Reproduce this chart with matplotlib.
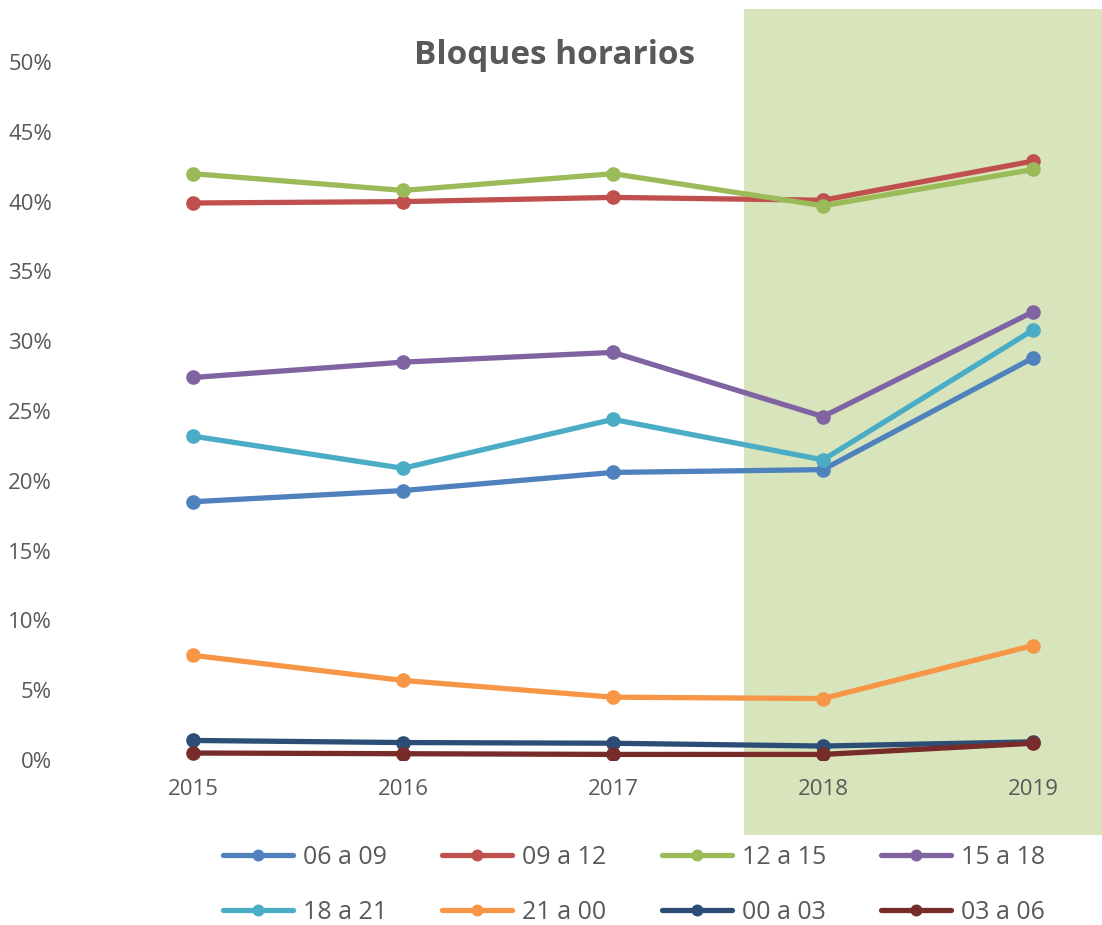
import matplotlib
matplotlib.use("Agg")
import matplotlib.pyplot as plt
from matplotlib.patches import Rectangle
from matplotlib.ticker import FuncFormatter

plt.rcParams['font.family'] = ['Open Sans', 'DejaVu Sans']

years = [2015, 2016, 2017, 2018, 2019]

s_06_09 = [18.5, 19.3, 20.6, 20.8, 28.8]
s_09_12 = [39.9, 40.0, 40.3, 40.1, 42.9]
s_12_15 = [42.0, 40.8, 42.0, 39.7, 42.3]
s_15_18 = [27.4, 28.5, 29.2, 24.6, 32.1]
s_18_21 = [23.2, 20.9, 24.4, 21.5, 30.8]
s_21_00 = [7.5, 5.7, 4.5, 4.4, 8.2]
s_00_03 = [1.4, 1.25, 1.2, 1.0, 1.3]
s_03_06 = [0.5, 0.45, 0.4, 0.4, 1.2]

labels = ['06 a 09', '09 a 12', '12 a 15', '15 a 18',
          '18 a 21', '21 a 00', '00 a 03', '03 a 06']
series = [s_06_09, s_09_12, s_12_15, s_15_18, s_18_21, s_21_00, s_00_03, s_03_06]
colors = ['#4F81BD', '#C0504D', '#9BBB59', '#8064A2',
          '#4BACC6', '#F79646', '#2C4D75', '#772C2A']

text_col = '#595959'

fig = plt.figure(figsize=(11.02, 9.25), dpi=100)

# shaded highlight behind 2018-2019
fig.patches.append(Rectangle((744 / 1102, 1 - 835 / 925), 1 - 744 / 1102, (835 - 9) / 925,
                             transform=fig.transFigure, facecolor='#D8E4BC',
                             edgecolor='none', zorder=-1))

ax = fig.add_axes([88 / 1102, 1 - 760 / 925, 1008 / 1102, (760 - 62) / 925])
ax.set_facecolor('none')

handles = []
for vals, lab, c in zip(series, labels, colors):
    h, = ax.plot(years, [v / 100 for v in vals], color=c, lw=3.8, marker='o', ms=9.5,
                 label=lab, solid_capstyle='round')
    handles.append(h)

ax.set_xlim(2014.5, 2019.3)
ax.set_ylim(0, 0.5)
ax.set_yticks([i * 0.05 for i in range(11)])
ax.yaxis.set_major_formatter(FuncFormatter(lambda v, p: f'{v * 100:.0f}%'))
ax.set_xticks(years)
ax.set_xticklabels([str(y) for y in years])
for s in ax.spines.values():
    s.set_visible(False)
ax.tick_params(axis='both', length=0, labelsize=16, labelcolor=text_col)
ax.tick_params(axis='y', pad=26)
ax.tick_params(axis='x', pad=14)

fig.text(554 / 1102, 1 - 55 / 925, 'Bloques horarios', ha='center', va='center',
         fontsize=24, fontweight='bold', color=text_col)

# legend filled row by row
order = [0, 4, 1, 5, 2, 6, 3, 7]
leg = fig.legend([handles[i] for i in order], [labels[i] for i in order],
                 loc='center', bbox_to_anchor=(634 / 1102, 1 - 885 / 925), ncol=4,
                 frameon=False, fontsize=18, handlelength=2.8, columnspacing=2.2,
                 handletextpad=0.4, labelspacing=1.2, markerscale=0.8)
for t in leg.get_texts():
    t.set_color(text_col)

fig.savefig('out.png', dpi=100)
